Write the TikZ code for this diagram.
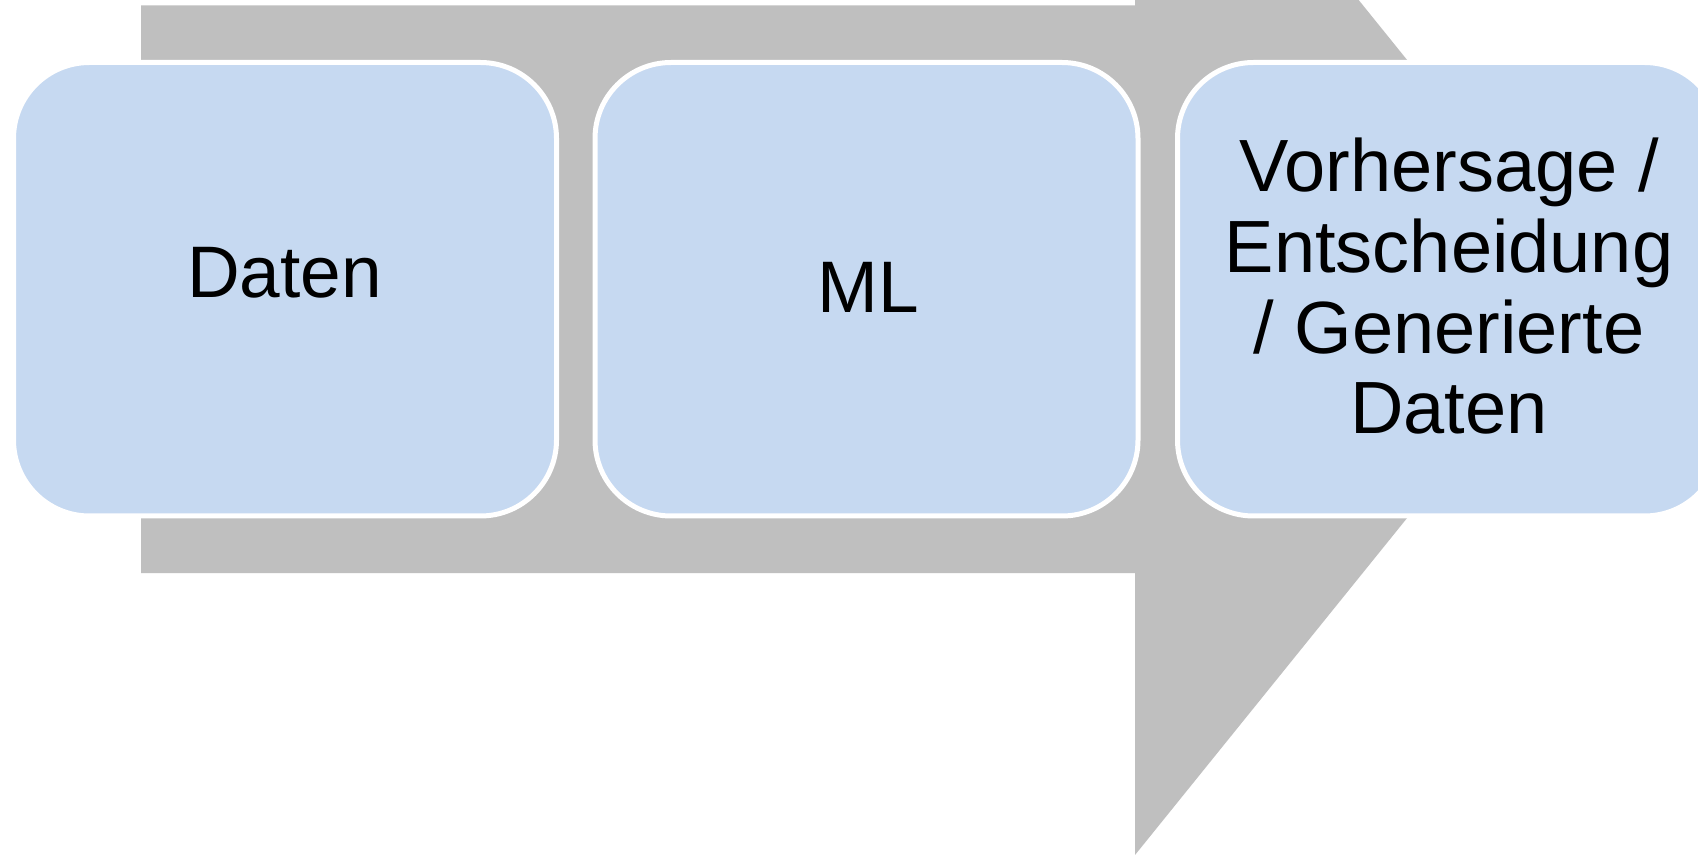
\documentclass[tikz,border=0pt]{standalone}
\usepackage{fontspec}
\setmainfont{Liberation Sans}
\definecolor{arrowgray}{HTML}{BFBFBF}
\definecolor{boxblue}{HTML}{C6D9F1}
\begin{document}
\begin{tikzpicture}[x=0.5pt,y=-0.5pt,
  box/.style={draw=white, line width=2.5pt, fill=boxblue, rounded corners=38pt,
    minimum width=271.5pt, minimum height=226.75pt, inner sep=0pt, outer sep=0pt},
  lbl/.style={font=\fontsize{36.5}{40.4}\selectfont, align=center, inner sep=0pt, text=black}]
\useasboundingbox (0,0) rectangle (1698,855);
\clip (0,0) rectangle (1698,855);
\fill[white] (0,0) rectangle (1698,855);
% big arrow
\fill[arrowgray] (141,5.4) -- (1135,5.4) -- (1135,-277) -- (1592,289) -- (1135,855)
  -- (1135,573) -- (141,573) -- cycle;
% boxes
\node[box] (b1) at (285,289.25) {};
\node[box] (b2) at (866.5,289.25) {};
\node[box] (b3) at (1449,289.25) {};
% labels
\node[lbl] (t1) at (284.5,273) {Daten};
\node[lbl] (t2) at (868.5,287) {ML};
\node[lbl, font=\fontsize{37}{40.4}\selectfont] (t3) at (1449,286.2) {Vorhersage /\\Entscheidung\\/ Generierte\\Daten};
\end{tikzpicture}
\end{document}
